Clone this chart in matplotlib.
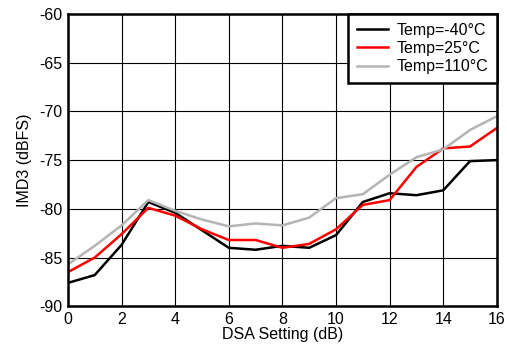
import numpy as np
import matplotlib.pyplot as plt

plt.rcParams['font.family'] = ['Liberation Sans', 'DejaVu Sans']
plt.rcParams['axes.unicode_minus'] = False

# DSA setting (dB)
dsa = list(range(0, 17))

# IMD3 (dBFS) per temperature
imd3_m40 = [-87.6, -86.8, -83.7, -79.3, -80.4, -82.2, -84.0, -84.2, -83.8, -84.0,
            -82.7, -79.3, -78.4, -78.6, -78.1, -75.1, -75.0]
imd3_25 = [-86.5, -85.0, -82.6, -79.9, -80.7, -82.1, -83.2, -83.2, -84.0, -83.6,
           -82.1, -79.6, -79.1, -75.7, -73.8, -73.6, -71.7]
imd3_110 = [-85.7, -83.8, -81.7, -79.1, -80.2, -81.1, -81.8, -81.5, -81.7, -80.9,
            -78.9, -78.5, -76.5, -74.7, -73.9, -71.9, -70.5]

labels = ['Temp=-40°C', 'Temp=25°C', 'Temp=110°C']
colors = ['#000000', '#ff0000', '#b4b4b4']

fig = plt.figure(figsize=(5.07, 3.5), dpi=100)
ax = fig.add_axes([0.134, 0.125, 0.846, 0.835])

for ys, lab, c in zip([imd3_m40, imd3_25, imd3_110], labels, colors):
    ax.plot(dsa, ys, color=c, linewidth=1.8, label=lab)

ax.set_xlim(0, 16)
ax.set_ylim(-90, -60)
ax.set_xticks(np.arange(0, 17, 2))
ax.set_yticks(np.arange(-90, -59, 5))
ax.grid(True, color='black', linewidth=0.8)
ax.tick_params(length=0, labelsize=11.5, pad=4)
for sp in ax.spines.values():
    sp.set_linewidth(1.8)

ax.set_xlabel('DSA Setting (dB)', fontsize=11.5, labelpad=0)
ax.set_ylabel('IMD3 (dBFS)', fontsize=11.5, labelpad=5)

leg = ax.legend(loc='upper right', fontsize=11.5, fancybox=False, framealpha=1,
                edgecolor='black', borderaxespad=0, handlelength=1.9,
                labelspacing=0.2, borderpad=0.55, handletextpad=0.55)
leg.get_frame().set_linewidth(1.8)

fig.savefig('out.png', dpi=100)
